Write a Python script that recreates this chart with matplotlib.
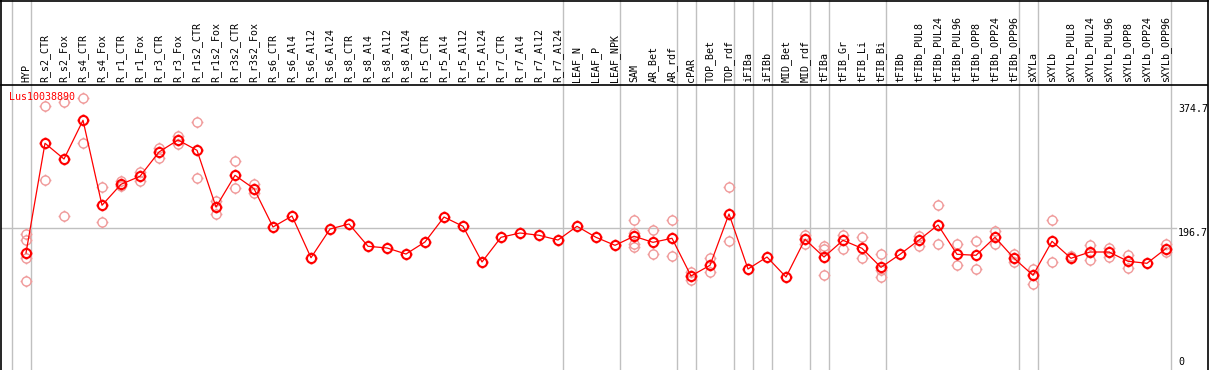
import matplotlib
matplotlib.use("Agg")
import matplotlib.pyplot as plt
import numpy as np
from matplotlib.path import Path
from matplotlib.lines import Line2D

samples = ["HYP", "R_s2_CTR", "R_s2_Fox", "R_s4_CTR", "R_s4_Fox", "R_r1_CTR", "R_r1_Fox",
           "R_r3_CTR", "R_r3_Fox", "R_r1s2_CTR", "R_r1s2_Fox", "R_r3s2_CTR", "R_r3s2_Fox",
           "R_s6_CTR", "R_s6_Al4", "R_s6_Al12", "R_s6_Al24", "R_s8_CTR", "R_s8_Al4",
           "R_s8_Al12", "R_s8_Al24", "R_r5_CTR", "R_r5_Al4", "R_r5_Al12", "R_r5_Al24",
           "R_r7_CTR", "R_r7_Al4", "R_r7_Al12", "R_r7_Al24", "LEAF_N", "LEAF_P", "LEAF_NPK",
           "SAM", "AR_Bet", "AR_rdf", "cPAR", "TOP_Bet", "TOP_rdf", "iFIBa", "iFIBb",
           "MID_Bet", "MID_rdf", "tFIBa", "tFIB_Gr", "tFIB_Li", "tFIB_Bi", "tFIBb",
           "tFIBb_PUL8", "tFIBb_PUL24", "tFIBb_PUL96", "tFIBb_OPP8", "tFIBb_OPP24",
           "tFIBb_OPP96", "sXYLa", "sXYLb", "sXYLb_PUL8", "sXYLb_PUL24", "sXYLb_PUL96",
           "sXYLb_OPP8", "sXYLb_OPP24", "sXYLb_OPP96"]

means = [160.8, 318.3, 295.7, 351.3, 229.3, 259.4, 270.9, 305.8, 323.0, 308.2, 226.8,
         272.3, 253.1, 198.1, 213.9, 154.0, 195.2, 202.4, 170.4, 168.0, 159.3, 176.6,
         212.4, 199.1, 147.9, 183.3, 189.5, 186.2, 179.4, 199.1, 183.3, 171.8, 184.8,
         176.1, 181.9, 127.8, 143.1, 216.8, 137.8, 155.0, 126.3, 180.4, 155.0, 179.0,
         167.5, 140.2, 158.9, 179.4, 201.0, 158.9, 157.5, 183.3, 153.2, 128.8, 177.6,
         153.2, 162.2, 162.2, 148.9, 146.0, 167.2]

# replicate values: (sample index, value)
rep_idx = [0, 0, 0, 0, 1, 1, 2, 2, 3, 3, 4, 4, 5, 5, 6, 6, 7, 7, 8, 8, 9, 9, 10, 10,
           11, 11, 12, 12, 32, 32, 32, 32, 33, 33, 34, 34, 35, 35, 36, 36, 37, 37,
           41, 41, 42, 42, 42, 43, 43, 44, 44, 45, 45, 45, 47, 47, 48, 48, 49, 49,
           50, 50, 51, 51, 52, 52, 53, 53, 54, 54, 55, 56, 56, 57, 57, 58, 58, 60, 60]
rep_val = [188.5, 179.0, 154.0, 120.6, 371.8, 265.6, 377.1, 213.9, 383.3, 318.3,
           255.1, 204.9, 264.1, 257.0, 276.6, 264.1, 311.9, 297.6, 329.2, 317.2,
           348.4, 268.0, 235.9, 216.8, 292.8, 253.7, 259.4, 247.3,
           208.1, 189.1, 173.3, 169.8, 193.8, 159.3, 208.1, 156.0, 133.1, 122.4,
           154.0, 133.1, 255.1, 178.0, 187.0, 173.3, 171.3, 166.5, 128.8, 187.0, 166.5,
           183.3, 153.2, 158.9, 135.9, 125.9, 185.2, 171.3, 229.3, 173.3, 173.3, 143.1,
           177.6, 137.8, 192.4, 174.1, 158.9, 147.9, 137.4, 116.7, 208.1, 147.4,
           156.0, 172.7, 150.3, 168.0, 155.7, 158.6, 138.8, 174.4, 161.5]

group_ends = [-1, 0, 28, 31, 34, 35, 37, 38, 39, 41, 42, 45, 52, 53, 60]
axis_labels = [374.7, 196.7, 0]
gene = "Lus10038890"

W, H = 1209, 370
fig = plt.figure(figsize=(W / 100, H / 100), dpi=100)
top_px = 85
ax = fig.add_axes([1 / W, 0, 1206 / W, (H - top_px) / H])
ax.set_xlim((1 - 26) / 19, (1207 - 26) / 19)
ax.set_ylim((365 - 370) / 0.69662, (365 - top_px) / 0.69662)
ax.set_xticks([])
ax.set_yticks([])
for s in ["bottom", "left", "right"]:
    ax.spines[s].set_visible(False)
ax.spines["top"].set_linewidth(1.2)

grey = "#c0c0c0"
for g in group_ends:
    ax.axvline(g + 0.25, ymin=0, ymax=H / (H - top_px), color=grey, lw=1, clip_on=False, zorder=0)
ax.axhline(axis_labels[1], xmin=0, xmax=1175 / 1206, color=grey, lw=1, zorder=0)

# custom marker: polygon circle with four short ticks outside
t = np.linspace(0, 2 * np.pi, 33)
verts = list(zip(np.cos(t), np.sin(t)))
codes = [Path.MOVETO] + [Path.LINETO] * (len(verts) - 1)
for a, b in [(1, 0), (-1, 0), (0, 1), (0, -1)]:
    verts += [(a, b), (1.3 * a, 1.3 * b)]
    codes += [Path.MOVETO, Path.LINETO]
marker = Path(verts, codes)

ax.plot(rep_idx, rep_val, linestyle="none", marker=marker, markersize=8.5,
        markerfacecolor="none", markeredgecolor="#f09a9a", markeredgewidth=1.0, zorder=2)
ax.plot(range(len(samples)), means, color="red", lw=0.9, zorder=3)
ax.plot(range(len(samples)), means, linestyle="none", marker=marker, markersize=8.5,
        markerfacecolor="none", markeredgecolor="red", markeredgewidth=1.5, zorder=4)

font = "DejaVu Sans Mono"
for i, name in enumerate(samples):
    ax.text(i, 1 + 2.5 / (H - top_px), name, rotation=90, ha="center", va="bottom",
            transform=ax.get_xaxis_transform(), fontsize=7.2, family=font, clip_on=False)

ax.text(8 / 1206, 1 - 12 / (H - top_px), gene, color="red", fontsize=7.2, family=font,
        ha="left", va="center", transform=ax.transAxes)

tr = ax.get_yaxis_transform()
x_lab = 1177 / 1206
ax.text(x_lab, axis_labels[0], f"{axis_labels[0]}", transform=tr, ha="left", va="top",
        fontsize=7.2, family=font)
ax.text(x_lab, axis_labels[1], f"{axis_labels[1]}", transform=tr, ha="left", va="top",
        fontsize=7.2, family=font)
ax.text(x_lab, axis_labels[2], f"{axis_labels[2]}", transform=tr, ha="left", va="baseline",
        fontsize=7.2, family=font)

# outer frame
for xs, ys in [([0.5 / W, 0.5 / W], [0, 1]), ([1207.5 / W, 1207.5 / W], [0, 1]),
               ([0, 1208 / W], [1 - 0.5 / H, 1 - 0.5 / H])]:
    fig.add_artist(Line2D(xs, ys, color="black", lw=1.2, transform=fig.transFigure))

fig.savefig("out.png", dpi=100)
